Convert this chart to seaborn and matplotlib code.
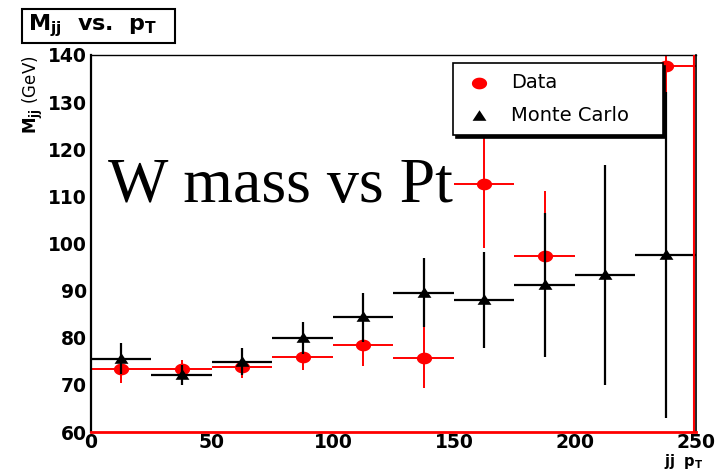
import numpy as np
import pandas as pd
import matplotlib
matplotlib.use("Agg")
import matplotlib.pyplot as plt
from matplotlib.patches import Rectangle
import seaborn as sns

# ---- data ----
bin_centers = [12.5, 37.5, 62.5, 87.5, 112.5, 137.5, 162.5, 187.5, 212.5, 237.5]
bin_halfwidth = [12.5] * 10
data_mass = [73.3, 73.3, 73.9, 76.0, 78.5, 75.8, 112.6, 97.4, np.nan, 137.7]
data_err = [3.0, 2.0, 2.5, 2.8, 4.5, 6.4, 13.6, 13.7, np.nan, 20.0]
mc_mass = [75.6, 72.1, 74.9, 80.0, 84.3, 89.6, 88.0, 91.2, 93.3, 97.6]
mc_err = [3.2, 2.1, 2.9, 3.4, 5.1, 7.4, 10.1, 15.2, 23.3, 34.6]
x_ticks = [0, 50, 100, 150, 200, 250]
y_ticks = [60, 70, 80, 90, 100, 110, 120, 130, 140]

df_data = pd.DataFrame({"pt": bin_centers, "mass": data_mass})
df_mc = pd.DataFrame({"pt": bin_centers, "mass": mc_mass})

sns.set_style("white")
plt.rcParams["font.family"] = ["DejaVu Sans"]
plt.rcParams["mathtext.fontset"] = "dejavusans"
plt.rcParams["text.color"] = "black"
plt.rcParams["axes.labelcolor"] = "black"
plt.rcParams["xtick.color"] = "black"
plt.rcParams["ytick.color"] = "black"

fig = plt.figure(figsize=(7.16, 4.72), dpi=100)
ax = fig.add_axes([0.127, 0.0847, 0.845, 0.7988])

t = np.linspace(0, 2 * np.pi, 60)
ellipse = np.column_stack([1.3 * np.cos(t), np.sin(t)])
tri = np.array([[-1.0, -0.62], [1.0, -0.62], [0.0, 0.9], [-1.0, -0.62]])

red = "#ff0000"
ax.errorbar(bin_centers, data_mass, xerr=bin_halfwidth, yerr=data_err,
            fmt="none", ecolor=red, elinewidth=1.4, capsize=0, zorder=2)
sns.scatterplot(data=df_data, x="pt", y="mass", ax=ax, marker=ellipse,
                color=red, s=120, linewidth=0, zorder=3, label="Data")
ax.errorbar(bin_centers, mc_mass, xerr=bin_halfwidth, yerr=mc_err,
            fmt="none", ecolor="black", elinewidth=1.6, capsize=0, zorder=4)
sns.scatterplot(data=df_mc, x="pt", y="mass", ax=ax, marker=tri,
                color="black", s=100, linewidth=0, zorder=5, label="Monte Carlo")

ax.set_xlim(0, 250)
ax.set_ylim(60, 140)
ax.set_xticks(x_ticks)
ax.set_yticks(y_ticks)
ax.set_xticks(np.arange(0, 251, 10), minor=True)
ax.set_yticks(np.arange(60, 141, 2), minor=True)
ax.tick_params(axis="both", which="both", direction="in", colors="black",
               top=False, right=False, width=1.1)
ax.tick_params(axis="y", which="major", length=13, pad=3)
ax.tick_params(axis="y", which="minor", length=6)
ax.tick_params(axis="x", which="major", length=8, pad=1)
ax.tick_params(axis="x", which="minor", length=4.5)
for lab in ax.get_xticklabels() + ax.get_yticklabels():
    lab.set_fontsize(13.5)
    lab.set_fontweight("bold")

for side in ["left", "top", "right", "bottom"]:
    ax.spines[side].set_visible(True)
    ax.spines[side].set_color("black")
ax.spines["left"].set_linewidth(1.6)
ax.spines["top"].set_linewidth(1.0)
ax.spines["right"].set_linewidth(1.2)
ax.spines["bottom"].set_linewidth(2.0)
ax.spines["bottom"].set_color(red)
ax.axvline(249.0, color=red, lw=1.5, zorder=6)

ax.set_xlabel(r"$\mathbf{jj\ \ p_{T}}$", fontsize=10.5, ha="right", va="top")
ax.xaxis.set_label_coords(1.012, -0.053)
ax.set_ylabel(r"$\mathbf{M_{jj}}$ (GeV)", fontsize=12, loc="top", labelpad=2)

leg = ax.legend(loc="upper left", bbox_to_anchor=(0.598, 0.788, 0.347, 0.191),
                mode="expand", frameon=True, fancybox=False,
                shadow={"color": "black", "alpha": 1.0},
                fontsize=14, borderpad=0.5, labelspacing=0.75,
                handletextpad=0.8, handlelength=1.7, borderaxespad=0)
leg.get_frame().set_edgecolor("black")
leg.get_frame().set_linewidth(1.2)
leg.set_zorder(10)

fig.text(108 / 716, 1 - 202 / 472, "W mass vs Pt", family="Liberation Serif",
         fontsize=46, va="baseline", ha="left", color="black", zorder=20)

fig.patches.append(Rectangle((22 / 716, 1 - 43 / 472), 153 / 716, 34 / 472,
                             transform=fig.transFigure, facecolor="white",
                             edgecolor="black", linewidth=1.5))
fig.text(28 / 716, 1 - 26 / 472, r"$\mathbf{M_{jj}}$  vs.  $\mathbf{p_{T}}$",
         fontsize=16, fontweight="bold", va="center", ha="left", zorder=5)

fig.savefig("out.png", dpi=100)
